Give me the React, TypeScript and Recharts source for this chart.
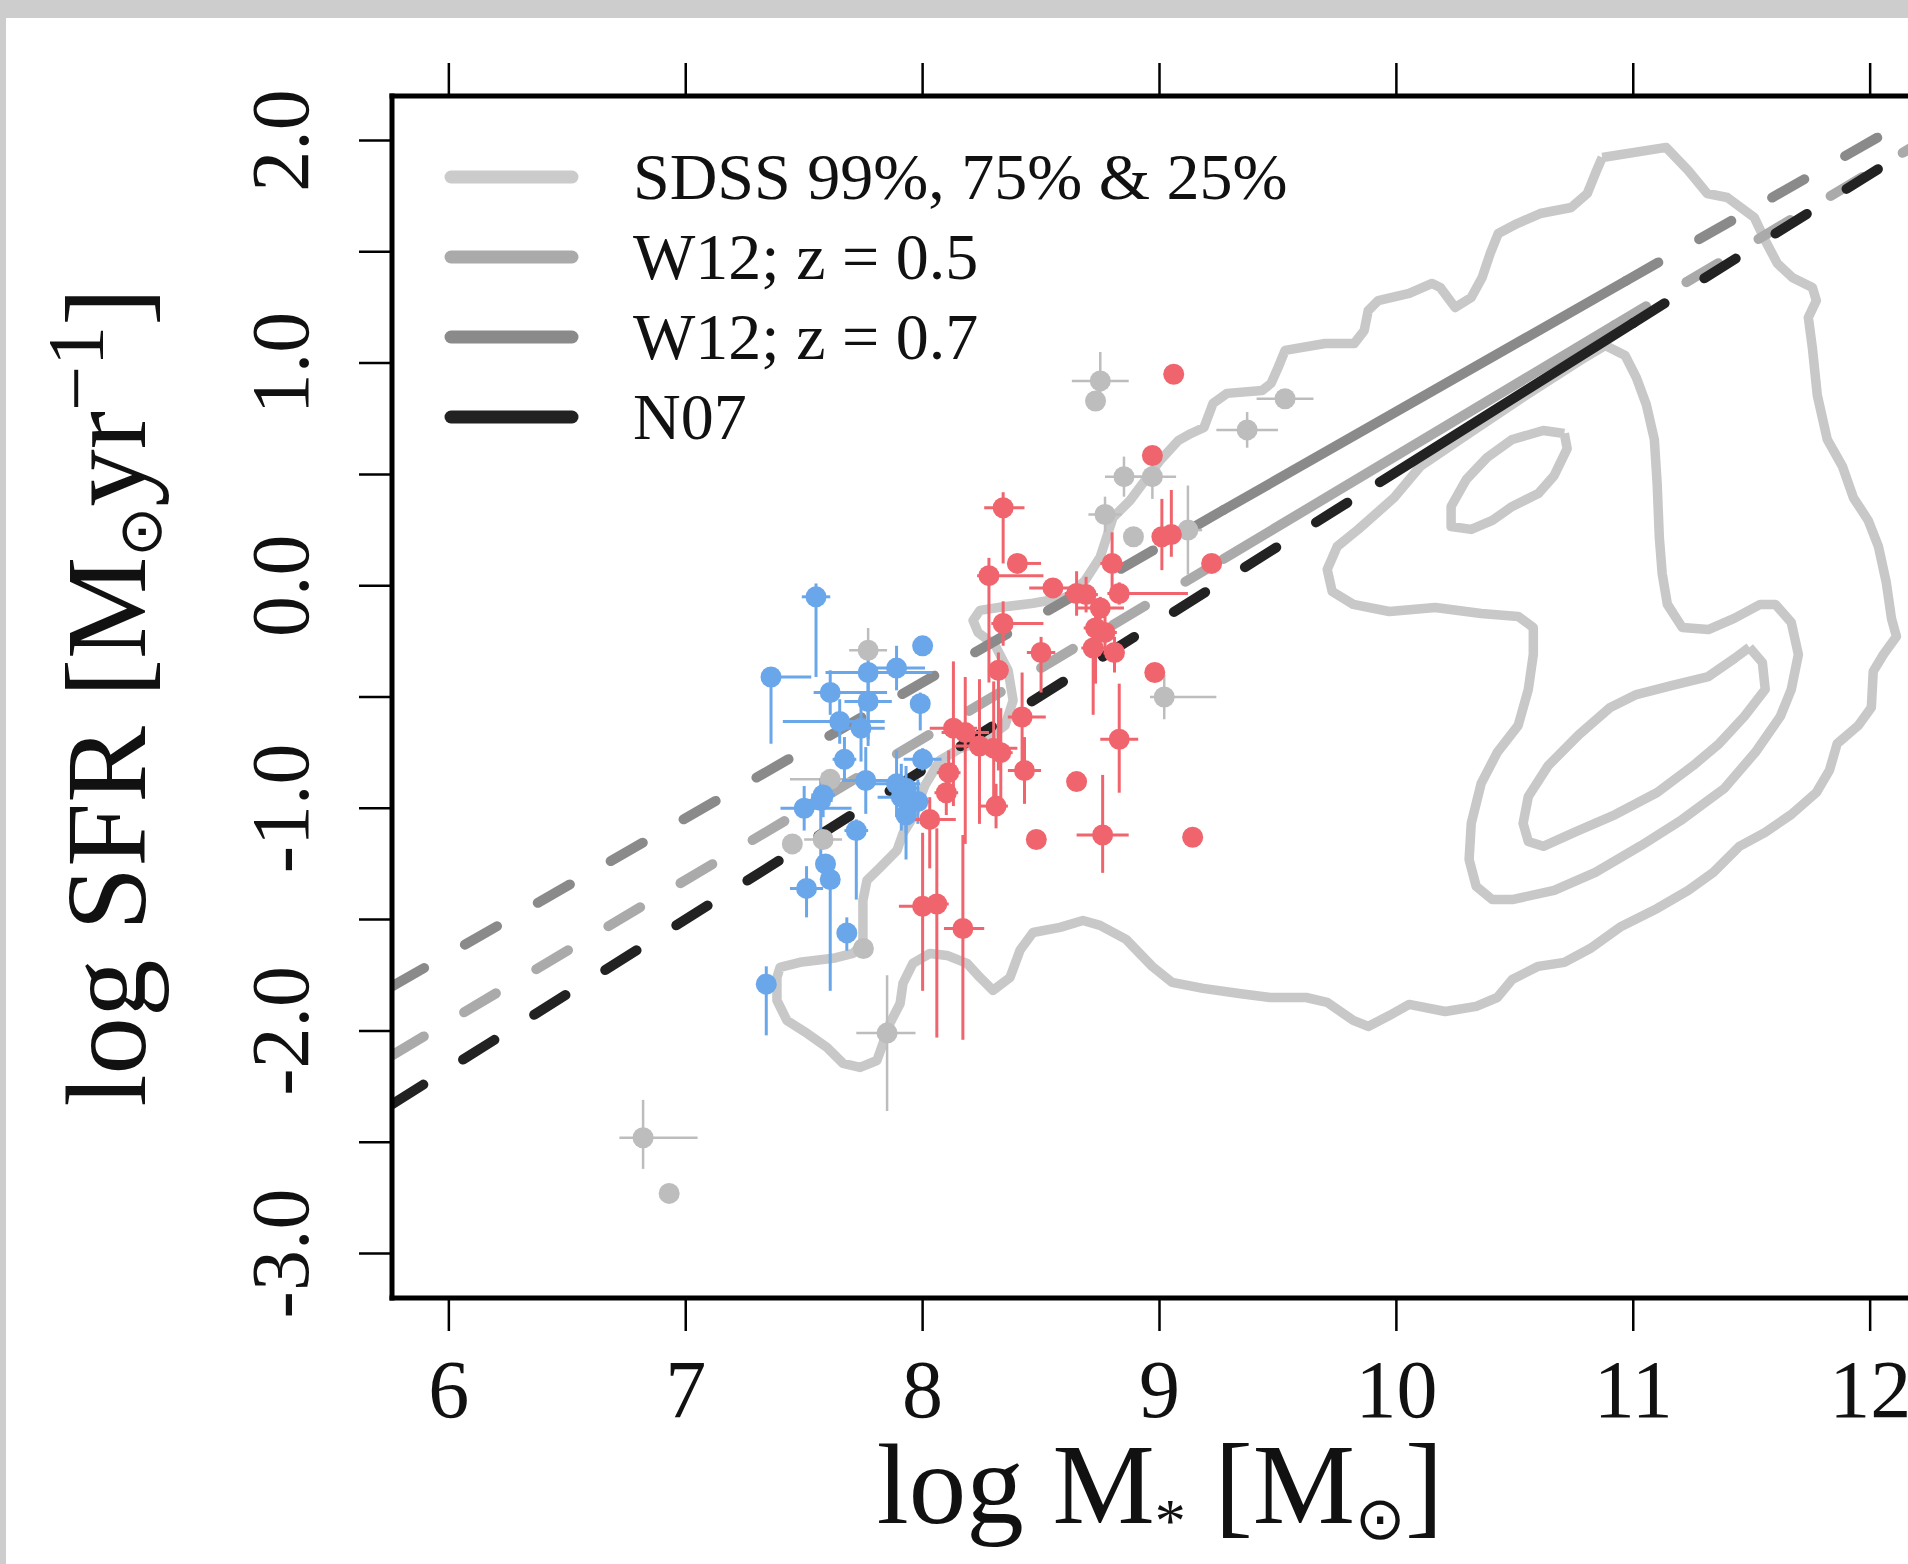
import React from 'react';
import { ComposedChart, XAxis, YAxis, Line, Scatter, ErrorBar, Legend } from 'recharts';

const SERIF = '"Liberation Serif", "Times New Roman", serif';

// axes
const xDomain = [5.76, 12.24];
const yDomain = [-3.2, 2.2];
const xTicks = [6, 7, 8, 9, 10, 11, 12];
const yTicks = [-3, -2.5, -2, -1.5, -1, -0.5, 0, 0.5, 1, 1.5, 2];

// SDSS density contours, [log M*, log SFR]
const sdss99 = [
  [10.869, 1.924], [11.139, 1.969], [11.232, 1.865], [11.312, 1.762], [11.397, 1.744], [11.511, 1.654],
  [11.557, 1.551], [11.608, 1.448], [11.671, 1.385], [11.756, 1.34], [11.773, 1.281], [11.739, 1.205],
  [11.756, 1.07], [11.777, 0.855], [11.819, 0.657], [11.883, 0.536], [11.929, 0.396], [11.992, 0.293],
  [12.035, 0.176], [12.068, 0.015], [12.09, -0.147], [12.111, -0.228], [12.056, -0.309], [12.013, -0.385],
  [12.005, -0.547], [11.95, -0.628], [11.861, -0.709], [11.828, -0.83], [11.773, -0.929], [11.667, -1.028],
  [11.557, -1.108], [11.448, -1.171], [11.338, -1.288], [11.232, -1.369], [11.101, -1.45], [10.949, -1.531],
  [10.818, -1.63], [10.709, -1.692], [10.599, -1.71], [10.489, -1.769], [10.426, -1.85], [10.337, -1.89],
  [10.206, -1.913], [10.054, -1.881], [9.97, -1.931], [9.881, -1.98], [9.818, -1.953], [9.708, -1.872],
  [9.619, -1.85], [9.467, -1.85], [9.336, -1.832], [9.184, -1.809], [9.053, -1.782], [8.969, -1.71],
  [8.859, -1.589], [8.749, -1.526], [8.677, -1.504], [8.58, -1.535], [8.466, -1.558], [8.411, -1.638],
  [8.369, -1.76], [8.297, -1.818], [8.242, -1.76], [8.188, -1.697], [8.103, -1.661], [8.031, -1.652],
  [7.959, -1.697], [7.917, -1.787], [7.905, -1.877], [7.862, -1.966], [7.833, -2.056], [7.807, -2.133],
  [7.736, -2.164], [7.664, -2.146], [7.596, -2.074], [7.512, -2.011], [7.427, -1.953], [7.385, -1.863],
  [7.385, -1.76], [7.398, -1.715], [7.482, -1.692], [7.622, -1.674], [7.706, -1.652], [7.748, -1.607],
  [7.748, -1.517], [7.748, -1.414], [7.765, -1.324], [7.82, -1.266], [7.892, -1.189], [7.917, -1.113],
  [7.959, -1.041], [8.01, -0.897], [8.073, -0.785], [8.158, -0.731], [8.263, -0.695], [8.348, -0.628],
  [8.382, -0.516], [8.361, -0.381], [8.306, -0.268], [8.234, -0.21], [8.213, -0.156], [8.242, -0.111],
  [8.327, -0.097], [8.466, -0.079], [8.61, -0.052], [8.686, 0.024], [8.749, 0.127], [8.804, 0.307],
  [8.876, 0.383], [8.948, 0.486], [9.003, 0.563], [9.079, 0.652], [9.133, 0.684], [9.188, 0.711],
  [9.226, 0.819], [9.285, 0.864], [9.433, 0.877], [9.471, 0.909], [9.501, 0.981], [9.53, 1.057],
  [9.699, 1.088], [9.822, 1.088], [9.864, 1.146], [9.881, 1.236], [9.923, 1.281], [10.054, 1.313],
  [10.151, 1.358], [10.185, 1.34], [10.248, 1.25], [10.316, 1.295], [10.362, 1.385], [10.396, 1.492],
  [10.43, 1.582], [10.51, 1.627], [10.607, 1.672], [10.738, 1.699], [10.806, 1.762], [10.84, 1.852],
  [10.869, 1.924],
];
const sdss75 = [
  [10.882, 1.079], [10.966, 1.034], [11.013, 0.935], [11.055, 0.814], [11.089, 0.657], [11.101, 0.455],
  [11.11, 0.217], [11.122, 0.055], [11.144, -0.084], [11.207, -0.188], [11.317, -0.197], [11.426, -0.147],
  [11.536, -0.084], [11.6, -0.084], [11.667, -0.165], [11.697, -0.309], [11.667, -0.466], [11.621, -0.587],
  [11.515, -0.749], [11.384, -0.911], [11.207, -1.05], [11.034, -1.167], [10.84, -1.288], [10.666, -1.369],
  [10.489, -1.41], [10.405, -1.41], [10.337, -1.351], [10.307, -1.23], [10.316, -1.068], [10.358, -0.888],
  [10.426, -0.749], [10.514, -0.628], [10.557, -0.466], [10.578, -0.309], [10.578, -0.188], [10.514, -0.138],
  [10.358, -0.125], [10.164, -0.098], [9.97, -0.116], [9.818, -0.084], [9.729, -0.026], [9.708, 0.073],
  [9.75, 0.176], [9.839, 0.253], [9.991, 0.396], [10.101, 0.536], [10.312, 0.688], [10.565, 0.868],
  [10.776, 1.012], [10.882, 1.079],
];
const sdss25a = [
  [10.709, 0.684], [10.62, 0.697], [10.489, 0.657], [10.383, 0.576], [10.295, 0.477], [10.231, 0.356],
  [10.231, 0.266], [10.316, 0.253], [10.405, 0.293], [10.489, 0.356], [10.599, 0.414], [10.666, 0.495],
  [10.721, 0.616], [10.709, 0.684],
];
const sdss25b = [
  [11.49, -0.277], [11.545, -0.345], [11.557, -0.466], [11.469, -0.587], [11.363, -0.709], [11.253, -0.808],
  [11.101, -0.929], [10.924, -1.028], [10.751, -1.108], [10.62, -1.171], [10.557, -1.149], [10.535, -1.068],
  [10.557, -0.947], [10.641, -0.808], [10.772, -0.668], [10.903, -0.547], [11.013, -0.489], [11.165, -0.448],
  [11.317, -0.408], [11.427, -0.327], [11.49, -0.277],
];

// main-sequence relations: extrapolated (dashed) and fitted (solid) parts
const w05Low = [[5.76, -2.11], [9.27, 0.12]];
const w05Fit = [[9.27, 0.12], [10.92, 1.17]];
const w05High = [[10.92, 1.17], [12.24, 2.01]];
const w07Low = [[5.76, -1.8], [9.27, 0.34]];
const w07Fit = [[9.27, 0.34], [10.97, 1.37]];
const w07High = [[10.97, 1.37], [12.24, 2.14]];
const n07Low = [[5.76, -2.33], [9.93, 0.465]];
const n07Fit = [[9.93, 0.465], [11.0, 1.18]];
const n07High = [[11.0, 1.18], [12.24, 2.01]];

// galaxies: [x, y, xErrLow, xErrHigh, yErrLow, yErrHigh]
const grayGal = [
  [8.75, 0.92, 0.12, 0.12, 0.13, 0.13], [8.73, 0.83, 0, 0, 0, 0], [9.37, 0.7, 0.13, 0.13, 0.08, 0.08],
  [9.53, 0.84, 0.12, 0.12, 0, 0], [8.85, 0.49, 0.08, 0.08, 0.09, 0.09], [8.97, 0.49, 0.1, 0.1, 0.1, 0.1],
  [8.77, 0.32, 0.07, 0.07, 0.08, 0.08], [8.89, 0.22, 0, 0, 0, 0], [9.12, 0.25, 0.06, 0.06, 0.2, 0.2],
  [9.02, -0.5, 0.06, 0.22, 0.1, 0.1], [7.77, -0.29, 0.08, 0.08, 0.1, 0.1], [7.61, -0.87, 0.17, 0.08, 0, 0],
  [7.45, -1.16, 0, 0, 0, 0], [7.58, -1.14, 0.08, 0.08, 0, 0], [7.75, -1.63, 0, 0, 0, 0],
  [7.85, -2.01, 0.13, 0.12, 0.35, 0.26], [6.82, -2.48, 0.1, 0.23, 0.14, 0.17], [6.93, -2.73, 0, 0, 0, 0],
];
const blueGal = [
  [7.55, -0.05, 0.06, 0.06, 0.36, 0.06], [8.0, -0.27, 0, 0, 0, 0], [7.36, -0.41, 0.02, 0.17, 0.3, 0.02],
  [7.77, -0.39, 0.18, 0.27, 0.3, 0.12], [7.89, -0.37, 0.12, 0.12, 0.1, 0.1], [7.61, -0.48, 0.07, 0.24, 0.1, 0.1],
  [7.77, -0.52, 0.1, 0.1, 0.2, 0.1], [7.99, -0.53, 0.03, 0.03, 0.12, 0.05], [7.65, -0.61, 0.24, 0.19, 0.1, 0.1],
  [7.74, -0.64, 0.1, 0.1, 0.15, 0.15], [7.67, -0.78, 0.05, 0.05, 0.1, 0.1], [8.0, -0.78, 0.08, 0.08, 0.05, 0.05],
  [7.76, -0.875, 0.1, 0.1, 0.15, 0.15], [7.89, -0.89, 0.1, 0.1, 0.15, 0.15], [7.93, -0.91, 0.05, 0.05, 0.2, 0.1],
  [7.58, -0.94, 0.05, 0.05, 0.1, 0.1], [7.34, -1.79, 0, 0, 0.23, 0.08], [7.68, -1.56, 0, 0, 0.08, 0.07],
  [7.51, -1.36, 0.07, 0.07, 0.13, 0.1], [7.59, -1.25, 0, 0, 0, 0], [7.61, -1.32, 0, 0, 0.5, 0.05],
  [7.72, -1.1, 0.05, 0.05, 0.31, 0.05], [7.5, -1.0, 0.1, 0.2, 0.1, 0.1], [7.57, -0.965, 0.05, 0.05, 0.25, 0.1],
  [7.93, -1.03, 0.03, 0.03, 0.2, 0.1], [7.91, -0.95, 0.1, 0.1, 0.15, 0.15], [7.98, -0.97, 0.05, 0.05, 0.1, 0.1],
];
const redGal = [
  [9.06, 0.95, 0, 0, 0, 0], [8.97, 0.585, 0, 0, 0, 0], [8.34, 0.35, 0.08, 0.09, 0.25, 0.07],
  [8.4, 0.1, 0.02, 0.1, 0, 0], [8.28, 0.045, 0.05, 0.23, 0.48, 0.08], [8.34, -0.17, 0.05, 0.17, 0.1, 0.1],
  [8.55, -0.01, 0.1, 0.1, 0, 0], [8.65, -0.035, 0.05, 0.05, 0.1, 0.1], [8.69, -0.04, 0.05, 0.05, 0.08, 0.08],
  [8.75, -0.1, 0.1, 0.1, 0.05, 0.05], [8.73, -0.19, 0.05, 0.05, 0.25, 0.1], [8.77, -0.21, 0.05, 0.05, 0.1, 0.1],
  [8.72, -0.28, 0.05, 0.05, 0.3, 0.1], [8.8, 0.1, 0.05, 0.05, 0.12, 0.14], [8.83, -0.035, 0.05, 0.29, 0.05, 0.05],
  [8.5, -0.3, 0.06, 0.06, 0.18, 0.07], [8.81, -0.3, 0.03, 0.03, 0.09, 0.07], [8.98, -0.39, 0, 0, 0, 0],
  [8.32, -0.38, 0.03, 0.03, 0.45, 0.08], [8.42, -0.59, 0.06, 0.1, 0.22, 0.2], [8.83, -0.69, 0.08, 0.08, 0.24, 0.25],
  [8.65, -0.88, 0, 0, 0, 0], [8.43, -0.83, 0.07, 0.07, 0.15, 0.15], [8.13, -0.64, 0.1, 0.1, 0.35, 0.3],
  [8.18, -0.66, 0.1, 0.1, 0.5, 0.25], [8.24, -0.72, 0.1, 0.1, 0.35, 0.3], [8.3, -0.73, 0.1, 0.1, 0.3, 0.3],
  [8.33, -0.75, 0.05, 0.05, 0.25, 0.2], [8.11, -0.84, 0.05, 0.05, 0.1, 0.1], [8.1, -0.93, 0.05, 0.05, 0.1, 0.1],
  [8.03, -1.05, 0.09, 0.11, 0.22, 0.1], [8.0, -1.44, 0.1, 0.05, 0.38, 0.33], [8.06, -1.43, 0.05, 0.05, 0.6, 0.34],
  [8.17, -1.54, 0.08, 0.09, 0.5, 0.42], [8.31, -0.99, 0.07, 0.05, 0.1, 0.1], [8.48, -1.14, 0, 0, 0, 0],
  [8.76, -1.12, 0.11, 0.11, 0.17, 0.27], [9.14, -1.13, 0, 0, 0, 0], [9.22, 0.1, 0, 0, 0, 0],
  [9.01, 0.22, 0.03, 0.03, 0.15, 0.17], [9.05, 0.23, 0.03, 0.03, 0.1, 0.2],
];

const legendLabels = ['SDSS 99%, 75% & 25%', 'W12; z = 0.5', 'W12; z = 0.7', 'N07'];
const legendColors = ['#cbcbcb', '#aaaaaa', '#8a8a8a', '#222222'];

const toPts = (arr: number[][]) => arr.map(([x, y]) => ({ x, y }));
const toGal = (arr: number[][]) =>
  arr.map(([x, y, exl, exh, eyl, eyh]) => ({ x, y, ex: [exl, exh], ey: [eyl, eyh] }));

const dot = (color: string) => (p: any) => <circle cx={p.cx} cy={p.cy} r={10.5} fill={color} />;

const XTick = (props: any) => {
  const { x, y, payload } = props;
  return (
    <text x={x} y={y + 86} textAnchor="middle" fontSize={82} fontFamily={SERIF} fill="#111">
      {payload.value}
    </text>
  );
};

const YTick = (props: any) => {
  const { x, y, payload } = props;
  const v = payload.value;
  if (!Number.isInteger(v)) return <g />;
  const bx = x - 51;
  return (
    <text x={bx} y={y} transform={`rotate(-90 ${bx} ${y})`} textAnchor="middle" fontSize={82} fontFamily={SERIF} fill="#111">
      {v.toFixed(1)}
    </text>
  );
};

const EmptyTick = () => <g />;

const XTitle = () => (
  <text x={1160} y={1523} textAnchor="middle" fontSize={115} fontFamily={SERIF} fill="#111">
    log M
    <tspan fontSize={62} dy={18}>*</tspan>
    <tspan dy={-18}> [M</tspan>
    <tspan fontSize={60} dy={16}>⊙</tspan>
    <tspan dy={-16}>]</tspan>
  </text>
);

const YTitle = () => (
  <text x={145} y={697} transform="rotate(-90 145 697)" textAnchor="middle" fontSize={115} fontFamily={SERIF} fill="#111">
    log SFR [M
    <tspan fontSize={60} dy={16}>⊙</tspan>
    <tspan dy={-16}>yr</tspan>
    <tspan fontSize={80} dy={-42}>−1</tspan>
    <tspan dy={42}>]</tspan>
  </text>
);

const renderLegend = () => (
  <div style={{ position: 'relative', width: 900, height: 320 }}>
    {legendLabels.map((label, i) => (
      <div key={label} style={{ position: 'absolute', left: 0, top: i * 80, height: 80, width: 900 }}>
        <svg width={150} height={80} style={{ position: 'absolute', left: 0, top: 0 }}>
          <line x1={11} y1={40} x2={132} y2={40} stroke={legendColors[i]} strokeWidth={13} strokeLinecap="round" />
        </svg>
        <span
          style={{
            position: 'absolute', left: 193, top: 0, lineHeight: '80px', fontSize: 66,
            fontFamily: SERIF, color: '#111', whiteSpace: 'nowrap',
          }}
        >
          {label}
        </span>
      </div>
    ))}
  </div>
);

const axisLine = { stroke: '#000', strokeWidth: 5, strokeLinecap: 'square' as const };
const tickLine = { stroke: '#000', strokeWidth: 2.5 };

export default function App() {
  const seg = (pts: number[][], color: string, dashed: boolean, key: string) => (
    <Line
      key={key}
      data={toPts(pts)}
      dataKey="y"
      type="linear"
      stroke={color}
      strokeWidth={10}
      strokeLinecap="round"
      strokeDasharray={dashed ? '37 47' : undefined}
      dot={false}
      activeDot={false}
      legendType="none"
      isAnimationActive={false}
    />
  );
  const contour = (pts: number[][], key: string) => (
    <Line
      key={key}
      data={toPts(pts)}
      dataKey="y"
      type="linear"
      stroke="#c8c8c8"
      strokeWidth={9.5}
      strokeLinejoin="round"
      dot={false}
      activeDot={false}
      legendType="none"
      isAnimationActive={false}
    />
  );
  const gal = (arr: number[][], color: string, ew: number) => (
    <Scatter data={toGal(arr)} fill={color} shape={dot(color)} legendType="none" isAnimationActive={false}>
      <ErrorBar dataKey="ex" direction="x" width={0} stroke={color} strokeWidth={ew} isAnimationActive={false} />
      <ErrorBar dataKey="ey" direction="y" width={0} stroke={color} strokeWidth={ew} isAnimationActive={false} />
    </Scatter>
  );

  return (
    <div style={{ position: 'fixed', left: 0, top: 0, width: 1908, height: 1564, overflow: 'hidden', background: '#cdcdcd' }}>
      <div style={{ position: 'absolute', left: 6, top: 18, right: 0, bottom: 0, background: '#fff' }} />
      <div style={{ position: 'absolute', left: 0, top: 0 }}>
        <ComposedChart width={2000} height={1564} margin={{ top: 56, right: 73, bottom: 16, left: 192 }}>
          <XAxis
            type="number"
            dataKey="x"
            domain={xDomain}
            ticks={xTicks}
            interval={0}
            allowDataOverflow
            height={250}
            tickSize={33}
            tickMargin={0}
            tick={XTick}
            axisLine={axisLine}
            tickLine={tickLine}
            label={{ content: XTitle }}
          />
          <XAxis
            xAxisId="top"
            orientation="top"
            type="number"
            dataKey="x"
            domain={xDomain}
            ticks={xTicks}
            interval={0}
            allowDataOverflow
            height={40}
            tickSize={33}
            tick={EmptyTick}
            axisLine={axisLine}
            tickLine={tickLine}
          />
          <YAxis
            type="number"
            dataKey="y"
            domain={yDomain}
            ticks={yTicks}
            interval={0}
            allowDataOverflow
            width={200}
            tickSize={33}
            tickMargin={0}
            tick={YTick}
            axisLine={axisLine}
            tickLine={tickLine}
            label={{ content: YTitle }}
          />
          {contour(sdss99, 'c99')}
          {contour(sdss75, 'c75')}
          {contour(sdss25a, 'c25a')}
          {contour(sdss25b, 'c25b')}
          {seg(w05Low, '#aaaaaa', true, 'w05l')}
          {seg(w05Fit, '#aaaaaa', false, 'w05f')}
          {seg(w05High, '#aaaaaa', true, 'w05h')}
          {seg(w07Low, '#8a8a8a', true, 'w07l')}
          {seg(w07Fit, '#8a8a8a', false, 'w07f')}
          {seg(w07High, '#8a8a8a', true, 'w07h')}
          {seg(n07Low, '#222222', true, 'n07l')}
          {seg(n07Fit, '#222222', false, 'n07f')}
          {seg(n07High, '#222222', true, 'n07h')}
          {gal(grayGal, '#bdbdbd', 2.5)}
          {gal(blueGal, '#6aa6ea', 3)}
          {gal(redGal, '#f0656d', 3)}
          <Legend
            layout="horizontal"
            verticalAlign="middle"
            align="center"
            content={renderLegend}
            wrapperStyle={{ left: 440, top: 137, width: 900, height: 320 }}
          />
        </ComposedChart>
      </div>
    </div>
  );
}
